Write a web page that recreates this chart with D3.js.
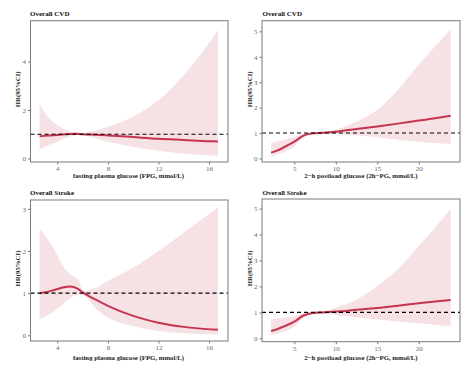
<!DOCTYPE html>
<html><head><meta charset="utf-8">
<script src="https://cdn.jsdelivr.net/npm/d3@7"></script>
<style>body{margin:0;background:#fff}svg{display:block}</style>
</head><body>
<script>
// Panel titles and axis labels
const titles = ["Overall CVD", "Overall CVD", "Overall Stroke", "Overall Stroke"];
const xLabels = ["fasting plasma glucose (FPG, mmol/L)", "2\u2212h postload glucose (2h\u2212PG, mmol/L)",
                 "fasting plasma glucose (FPG, mmol/L)", "2\u2212h postload glucose (2h\u2212PG, mmol/L)"];
const yLabel = "HR(95%CI)";

// Tick values
const xTicksFPG = [4, 8, 12, 16];
const xTicksPG = [5, 10, 15, 20];
const yTicksCVDFPG = [0, 2, 4];
const yTicksCVDPG = [0, 1, 2, 3, 4, 5];
const yTicksStrokeFPG = [0, 1, 2, 3];
const yTicksStrokePG = [0, 1, 2, 3, 4, 5];

// Panel 1: Overall CVD vs FPG
const cvdFpgX     = [2.6, 3.2, 4, 5, 5.5, 6, 7, 8, 10, 12, 14, 16, 16.7];
const cvdFpgHR    = [0.91, 0.94, 0.97, 1.01, 1.02, 1.0, 0.98, 0.95, 0.88, 0.81, 0.76, 0.71, 0.70];
const cvdFpgUpper = [2.24, 1.75, 1.38, 1.12, 1.06, 1.05, 1.15, 1.31, 1.72, 2.41, 3.45, 4.77, 5.32];
const cvdFpgLower = [0.38, 0.52, 0.69, 0.90, 0.96, 0.96, 0.83, 0.69, 0.48, 0.31, 0.20, 0.12, 0.10];

// Panel 2: Overall CVD vs 2h-PG
const cvdPgX     = [2.2, 3, 3.7, 5, 6.1, 7.3, 8.5, 10, 12.5, 15, 17.5, 20, 22, 23.85];
const cvdPgHR    = [0.23, 0.32, 0.43, 0.66, 0.90, 0.99, 1.01, 1.05, 1.16, 1.26, 1.37, 1.49, 1.58, 1.68];
const cvdPgUpper = [0.63, 0.68, 0.73, 0.84, 0.97, 1.02, 1.05, 1.13, 1.45, 1.91, 2.70, 3.69, 4.41, 5.07];
const cvdPgLower = [0.09, 0.16, 0.25, 0.47, 0.82, 0.96, 0.98, 0.97, 0.90, 0.83, 0.74, 0.66, 0.61, 0.57];

// Panel 3: Overall Stroke vs FPG
const strFpgX     = [2.6, 3.2, 3.7, 4.5, 5, 5.6, 6.1, 7, 8, 10, 12, 14, 16.7];
const strFpgHR    = [1.00, 1.03, 1.07, 1.14, 1.16, 1.11, 1.00, 0.85, 0.70, 0.46, 0.30, 0.20, 0.13];
const strFpgUpper = [2.54, 2.30, 2.07, 1.62, 1.45, 1.33, 1.05, 1.12, 1.29, 1.60, 2.00, 2.44, 3.03];
const strFpgLower = [0.38, 0.47, 0.56, 0.76, 0.88, 0.96, 0.95, 0.65, 0.42, 0.22, 0.10, 0.05, 0.02];

// Panel 4: Overall Stroke vs 2h-PG
const strPgX     = [2.2, 3, 3.7, 5, 6.1, 7.3, 8.5, 10, 12.5, 15, 17.5, 20, 22, 23.85];
const strPgHR    = [0.28, 0.36, 0.45, 0.64, 0.88, 0.98, 1.00, 1.03, 1.10, 1.17, 1.26, 1.35, 1.42, 1.48];
const strPgUpper = [0.73, 0.76, 0.79, 0.86, 0.96, 1.01, 1.05, 1.18, 1.50, 2.02, 2.66, 3.56, 4.27, 4.98];
const strPgLower = [0.13, 0.19, 0.26, 0.45, 0.78, 0.94, 0.96, 0.90, 0.81, 0.73, 0.65, 0.58, 0.52, 0.47];

const W = 474, H = 372;
const svg = d3.select("body").append("svg").attr("width", W).attr("height", H);

const panels = [
  {box:[30.5, 20.7, 228, 162], xd:[1.88, 17.5], yd:[-0.15, 5.69], xt:xTicksFPG, yt:yTicksCVDFPG,
   x:cvdFpgX, hr:cvdFpgHR, up:cvdFpgUpper, lo:cvdFpgLower, title:[30, 16], xlab:[128.5, 178], ylabX:18},
  {box:[262, 20.7, 460, 162], xd:[1.1, 24.98], yd:[-0.14, 5.42], xt:xTicksPG, yt:yTicksCVDPG,
   x:cvdPgX, hr:cvdPgHR, up:cvdPgUpper, lo:cvdPgLower, title:[262.5, 16], xlab:[361, 178], ylabX:250},
  {box:[30.5, 200, 228, 341], xd:[1.88, 17.5], yd:[-0.135, 3.21], xt:xTicksFPG, yt:yTicksStrokeFPG,
   x:strFpgX, hr:strFpgHR, up:strFpgUpper, lo:strFpgLower, title:[30, 194.5], xlab:[128.5, 360], ylabX:18},
  {box:[262, 199, 460, 341.7], xd:[1.1, 24.98], yd:[-0.13, 5.37], xt:xTicksPG, yt:yTicksStrokePG,
   x:strPgX, hr:strPgHR, up:strPgUpper, lo:strPgLower, title:[262.5, 194.5], xlab:[361, 360], ylabX:250}
];

const serif = "'Liberation Serif', 'Times New Roman', serif";
const lineColor = "#c5354f";
const bandColor = "#f6e1e5";
const gray = "#7a7a7a";

panels.forEach((p, i) => {
  const [l, t, r, b] = p.box;
  const xs = d3.scaleLinear().domain(p.xd).range([l, r]);
  const ys = d3.scaleLinear().domain(p.yd).range([b, t]);
  const g = svg.append("g");
  const pts = p.x.map((v, k) => ({x: v, hr: p.hr[k], up: p.up[k], lo: p.lo[k]}));

  const area = d3.area().x(d => xs(d.x)).y0(d => ys(d.lo)).y1(d => ys(d.up)).curve(d3.curveMonotoneX);
  g.append("path").datum(pts).attr("d", area).attr("fill", bandColor);

  const line = d3.line().x(d => xs(d.x)).y(d => ys(d.hr)).curve(d3.curveMonotoneX);
  g.append("path").datum(pts).attr("d", line).attr("fill", "none")
    .attr("stroke", lineColor).attr("stroke-width", 2);

  g.append("line").attr("x1", l).attr("x2", r).attr("y1", ys(1)).attr("y2", ys(1))
    .attr("stroke", "#000").attr("stroke-width", 1.1).attr("stroke-dasharray", "4,3");

  g.append("rect").attr("x", l).attr("y", t).attr("width", r - l).attr("height", b - t)
    .attr("fill", "none").attr("stroke", gray).attr("stroke-width", 1);

  const xa = g.append("g").attr("transform", `translate(0,${b})`)
    .call(d3.axisBottom(xs).tickValues(p.xt).tickSize(2.5).tickPadding(1.5).tickFormat(d3.format("d")));
  const ya = g.append("g").attr("transform", `translate(${l},0)`)
    .call(d3.axisLeft(ys).tickValues(p.yt).tickSize(2.5).tickPadding(2).tickFormat(d3.format("d")));
  [xa, ya].forEach(a => {
    a.select(".domain").remove();
    a.selectAll(".tick line").attr("stroke", gray);
    a.selectAll(".tick text").attr("fill", "#6a6a6a").style("font-family", serif).style("font-size", "7px");
  });

  g.append("text").attr("x", p.title[0]).attr("y", p.title[1]).text(titles[i])
    .style("font-family", serif).style("font-weight", "bold").style("font-size", "7px").attr("fill", "#111");

  g.append("text").attr("x", p.xlab[0]).attr("y", p.xlab[1]).attr("text-anchor", "middle").text(xLabels[i])
    .style("font-family", serif).style("font-weight", "bold").style("font-size", "6.8px").attr("fill", "#222");

  g.append("text").attr("transform", `translate(${p.ylabX},${(t + b) / 2 - 2}) rotate(-90)`)
    .attr("text-anchor", "middle").attr("dy", "0.35em").text(yLabel)
    .style("font-family", serif).style("font-weight", "bold").style("font-size", "6.8px").attr("fill", "#222");
});
</script>
</body></html>
